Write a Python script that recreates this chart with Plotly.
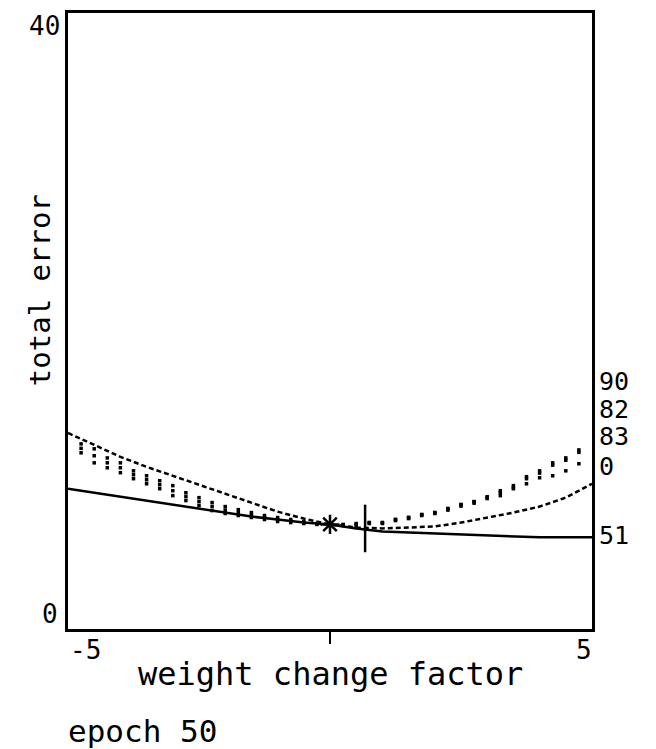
import plotly.graph_objects as go

# ---- data ----
line_x = [-5.0, -4.5, -4.0, -3.5, -3.0, -2.5, -2.0, -1.5, -1.0, -0.5, 0.0,
          0.5, 1.0, 1.5, 2.0, 2.5, 3.0, 3.5, 4.0, 4.5, 5.0]
err_0 = [12.73, 11.95, 11.18, 10.53, 9.95, 9.37, 8.79, 8.21, 7.62, 7.17, 6.79,
         6.59, 6.53, 6.59, 6.66, 6.91, 7.24, 7.56, 7.95, 8.53, 9.43]
err_51 = [9.11, 8.85, 8.59, 8.34, 8.08, 7.82, 7.56, 7.30, 7.11, 6.91, 6.79,
          6.53, 6.33, 6.27, 6.20, 6.14, 6.07, 6.01, 5.95, 5.95, 5.95]

dot_x = [-4.75, -4.5, -4.25, -4.0, -3.75, -3.5, -3.25, -3.0, -2.75, -2.5,
         -2.25, -2.0, -1.75, -1.5, -1.25, -1.0, -0.75, -0.5, -0.25, 0.0,
         0.25, 0.5, 0.75, 1.0, 1.25, 1.5, 1.75, 2.0, 2.25, 2.5,
         2.75, 3.0, 3.25, 3.5, 3.75, 4.0, 4.25, 4.5, 4.75]
err_90 = [12.02, 11.70, 11.11, 10.79, 10.27, 9.95, 9.63, 9.31, 8.85, 8.53,
          8.21, 7.95, 7.75, 7.56, 7.37, 7.24, 7.11, 6.98, 6.85, 6.79,
          6.79, 6.85, 6.91, 6.91, 7.11, 7.24, 7.43, 7.56, 7.82, 8.08,
          8.27, 8.59, 8.98, 9.31, 9.89, 10.27, 10.79, 11.11, 11.63]
err_82 = [11.73, 11.25, 10.79, 10.47, 10.02, 9.69, 9.37, 8.98, 8.60, 8.27,
          7.95, 7.72, 7.56, 7.40, 7.24, 7.11, 7.01, 6.91, 6.82, 6.79,
          6.75, 6.79, 6.85, 6.85, 7.04, 7.17, 7.37, 7.50, 7.72, 7.98,
          8.17, 8.47, 8.85, 9.18, 9.76, 10.12, 10.64, 10.96, 11.47]
err_83 = [11.44, 10.79, 10.47, 10.15, 9.76, 9.43, 9.11, 8.66, 8.34, 8.01,
          7.69, 7.50, 7.37, 7.24, 7.11, 6.98, 6.91, 6.85, 6.79, 6.79,
          6.72, 6.72, 6.91, 6.91, 7.11, 7.24, 7.43, 7.56, 7.82, 8.08,
          8.27, 8.53, 8.66, 9.11, 9.43, 9.82, 9.95, 10.27, 10.73]

star_pt = (0.0, 6.79)
plus_pt = (0.67, 6.53)

series_labels = ["90", "82", "83", "0", "51"]
y_ticks = ["40", "0"]
x_ticks = ["-5", "5"]

FONT = "DejaVu Sans Mono"
INK = "black"

fig = go.Figure()
dot_style = dict(mode="markers", marker=dict(symbol="square", size=3.5, color=INK),
                 showlegend=False, hoverinfo="skip")
fig.add_trace(go.Scatter(x=dot_x, y=err_90, name="90", **dot_style))
fig.add_trace(go.Scatter(x=dot_x, y=err_82, name="82", **dot_style))
fig.add_trace(go.Scatter(x=dot_x, y=err_83, name="83", **dot_style))
fig.add_trace(go.Scatter(x=line_x, y=err_0, name="0", mode="lines",
                         line=dict(color=INK, width=2.5, dash="5px,3px"),
                         showlegend=False))
fig.add_trace(go.Scatter(x=line_x, y=err_51, name="51", mode="lines",
                         line=dict(color=INK, width=2.5), showlegend=False))
fig.add_trace(go.Scatter(x=[star_pt[0]], y=[star_pt[1]], mode="markers",
                         marker=dict(symbol="asterisk-open", size=16, color=INK,
                                     line=dict(color=INK, width=2.5)),
                         showlegend=False))
fig.add_trace(go.Scatter(x=[plus_pt[0]], y=[plus_pt[1]], mode="markers",
                         marker=dict(symbol="line-ns-open", size=34, color=INK,
                                     line=dict(color=INK, width=2.5)),
                         showlegend=False))

ann = []
# y tick labels
ann.append(dict(text=y_ticks[0], xref="paper", x=0, xanchor="right", xshift=-6,
                yref="y", y=40, yanchor="top", yshift=4,
                showarrow=False, font=dict(family=FONT, size=26, color=INK)))
ann.append(dict(text=y_ticks[1], xref="paper", x=0, xanchor="right", xshift=-8,
                yref="y", y=0, yanchor="bottom", yshift=-2,
                showarrow=False, font=dict(family=FONT, size=26, color=INK)))
# x tick labels
ann.append(dict(text=x_ticks[0], xref="x", x=-5, xanchor="left", xshift=0,
                yref="paper", y=0, yanchor="top", yshift=-4,
                showarrow=False, font=dict(family=FONT, size=26, color=INK)))
ann.append(dict(text=x_ticks[1], xref="x", x=5, xanchor="right", xshift=2,
                yref="paper", y=0, yanchor="top", yshift=-4,
                showarrow=False, font=dict(family=FONT, size=26, color=INK)))
# axis titles
ann.append(dict(text="weight change factor", xref="paper", x=0.5, xanchor="center",
                yref="paper", y=0, yanchor="top", yshift=-24,
                showarrow=False, font=dict(family=FONT, size=32, color=INK)))
ann.append(dict(text="total error", textangle=-90, xref="paper", x=0, xanchor="center",
                xshift=-28, yref="paper", y=0.55, yanchor="middle",
                showarrow=False, font=dict(family=FONT, size=29, color=INK)))
ann.append(dict(text="epoch 50", xref="paper", x=0, xanchor="left", xshift=-2,
                yref="paper", y=0, yanchor="top", yshift=-82,
                showarrow=False, font=dict(family=FONT, size=31, color=INK)))
# series labels at right end
label_pos = [0.401, 0.357, 0.313, 0.263, 0.152]
for lab, yp in zip(series_labels, label_pos):
    ann.append(dict(text=lab, xref="paper", x=1, xanchor="left", xshift=5,
                    yref="paper", y=yp, yanchor="middle",
                    showarrow=False, font=dict(family=FONT, size=25, color=INK)))

fig.update_layout(
    width=656, height=749,
    margin=dict(l=68, r=64, t=10, b=120),
    paper_bgcolor="white", plot_bgcolor="white",
    annotations=ann,
    xaxis=dict(range=[-5, 5], showgrid=False, zeroline=False,
               showline=True, mirror=True, linecolor=INK, linewidth=2.5,
               tickvals=[0], ticks="outside", ticklen=12, tickwidth=2,
               tickcolor=INK, showticklabels=False),
    yaxis=dict(range=[0, 40], showgrid=False, zeroline=False,
               showline=True, mirror=True, linecolor=INK, linewidth=2.5,
               tickvals=[], showticklabels=False),
)

fig.write_html("out.html")
